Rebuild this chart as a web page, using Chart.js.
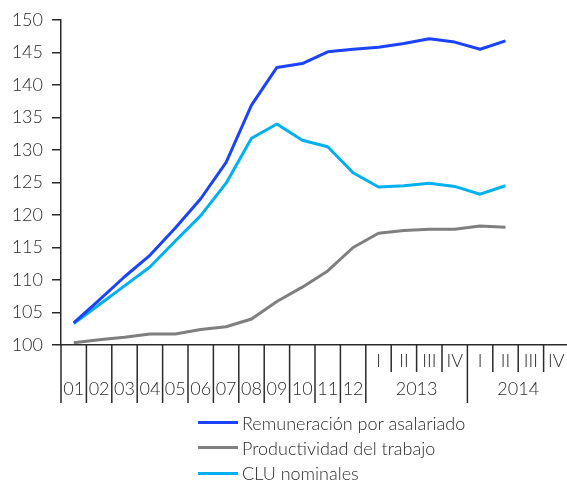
<!DOCTYPE html>
<html>
<head>
<meta charset="utf-8">
<script src="https://cdn.jsdelivr.net/npm/chart.js@4/dist/chart.umd.min.js"></script>
<style>
  html, body { margin: 0; padding: 0; background: #fff; overflow: hidden; width: 567px; height: 481px; }
  #wrap { position: relative; width: 567px; height: 481px; overflow: hidden; }
  #c { position: absolute; left: 0; top: 0; }
  #legend { position: absolute; left: 198px; top: 410px; font-family: Lato, sans-serif; font-weight: 300; font-size: 18px; color: #2a2a2a; }
  .item { height: 25.3px; display: flex; align-items: center; white-space: nowrap; }
  .swatch { width: 40px; height: 3px; margin-right: 4px; }
</style>
</head>
<body>
<div id="wrap">
  <canvas id="c" width="569" height="481" style="width:569px;height:481px"></canvas>
  <div id="legend"></div>
</div>
<script>
// ---- data ----
const yearLabels = ['01','02','03','04','05','06','07','08','09','10','11','12'];
const quarterLabels = ['I','II','III','IV'];
const quarterYears = ['2013','2014'];

const remuneracion = [103.4,106.9,110.5,113.8,118.0,122.5,128.1,136.9,142.7,143.3,145.1,145.5,145.8,146.4,147.1,146.6,145.5,146.8];
const productividad = [100.35,100.8,101.2,101.7,101.7,102.4,102.8,104.0,106.7,108.9,111.4,115.0,117.2,117.6,117.8,117.8,118.3,118.1];
const cluNominales = [103.3,106.2,109.1,112.0,116.0,119.9,124.9,131.8,134.0,131.5,130.5,126.5,124.3,124.5,124.9,124.4,123.2,124.5];

const yMin = 100, yMax = 150, yStep = 5;

// category list: 12 years + 2 years x 4 quarters
const periods = yearLabels.slice();
quarterYears.forEach(y => quarterLabels.forEach(q => periods.push(y + ' ' + q)));

const FONT = 'Lato, sans-serif';
const TXT = '#2a2a2a';
const AXIS = '#2a2a2a';

const tablePlugin = {
  id: 'tableAxis',
  afterDraw(chart) {
    const ctx = chart.ctx;
    const xs = chart.scales.x;
    const area = chart.chartArea;
    const n = periods.length;
    const cell = (xs.right - xs.left) / n;
    const edge = k => xs.left + k * cell;
    const top = area.bottom;
    const rowSplit = top + 27;
    const bottom = top + 58;
    ctx.save();
    ctx.strokeStyle = AXIS;
    ctx.lineWidth = 1.5;
    const nYears = yearLabels.length;
    const nQ = quarterLabels.length;
    // full-height lines: year boundaries and year-group boundaries
    for (let k = 0; k < n; k++) {
      const isFull = k <= nYears || ((k - nYears) % nQ === 0);
      ctx.beginPath();
      ctx.moveTo(edge(k), top);
      ctx.lineTo(edge(k), isFull ? bottom : rowSplit);
      ctx.stroke();
    }
    ctx.fillStyle = TXT;
    ctx.font = '300 18px ' + FONT;
    ctx.textAlign = 'center';
    ctx.textBaseline = 'middle';
    // bottom row: years
    yearLabels.forEach((t, i) => {
      ctx.fillText(t, xs.getPixelForValue(i), top + 44);
    });
    quarterYears.forEach((t, j) => {
      const start = nYears + j * nQ;
      ctx.fillText(t, edge(start + nQ / 2), top + 44);
      quarterLabels.forEach((q, qi) => {
        ctx.fillText(q, xs.getPixelForValue(start + qi), top + 16);
      });
    });
    ctx.restore();
  }
};

const chart = new Chart(document.getElementById('c'), {
  type: 'line',
  data: {
    labels: periods,
    datasets: [
      { label: 'Remuneración por asalariado', data: remuneracion, borderColor: '#1b43fb', backgroundColor: '#1b43fb' },
      { label: 'Productividad del trabajo', data: productividad, borderColor: '#7f7f7f', backgroundColor: '#7f7f7f' },
      { label: 'CLU nominales', data: cluNominales, borderColor: '#00b0f0', backgroundColor: '#00b0f0' }
    ]
  },
  options: {
    responsive: false,
    animation: false,
    devicePixelRatio: 1,
    elements: {
      line: { borderWidth: 3, tension: 0, borderJoinStyle: 'round', borderCapStyle: 'butt' },
      point: { radius: 0, hoverRadius: 0 }
    },
    layout: { padding: { top: 20, left: 0, right: 0, bottom: 136 } },
    plugins: { legend: { display: false }, tooltip: { enabled: false } },
    scales: {
      x: {
        type: 'category',
        offset: true,
        ticks: { display: false },
        grid: { display: false },
        border: { display: true, color: AXIS, width: 1.5 },
        afterFit(scale) { scale.height = 0; }
      },
      y: {
        min: yMin, max: yMax,
        ticks: { stepSize: yStep, padding: 9, color: TXT, font: { family: FONT, size: 18, weight: 300 } },
        grid: { drawOnChartArea: false, drawTicks: true, tickLength: 9, color: AXIS, lineWidth: 1.5 },
        border: { display: true, color: AXIS, width: 1.5 },
        afterFit(scale) { scale.width = 61; }
      }
    }
  },
  plugins: [tablePlugin]
});

// HTML legend built from the chart datasets
const lg = document.getElementById('legend');
chart.data.datasets.forEach(ds => {
  const row = document.createElement('div');
  row.className = 'item';
  const sw = document.createElement('span');
  sw.className = 'swatch';
  sw.style.background = ds.borderColor;
  const tx = document.createElement('span');
  tx.textContent = ds.label;
  row.appendChild(sw);
  row.appendChild(tx);
  lg.appendChild(row);
});
</script>
</body>
</html>
